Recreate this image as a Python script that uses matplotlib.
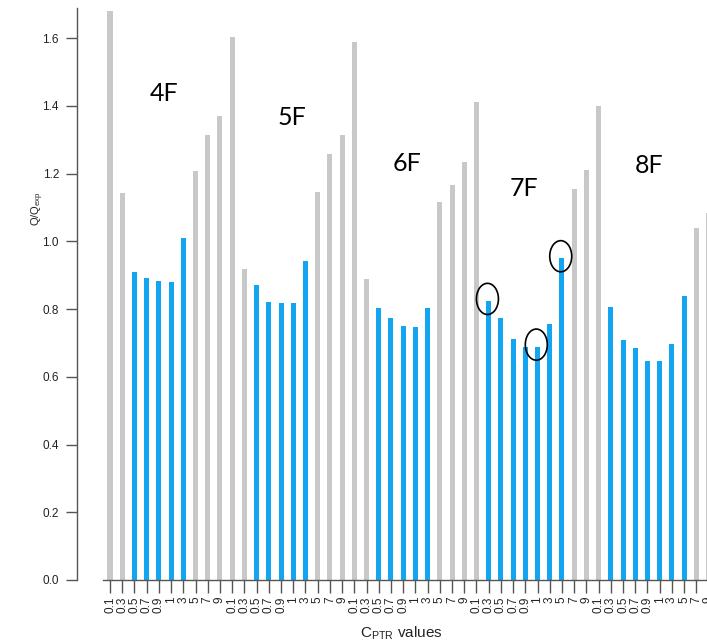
import matplotlib
matplotlib.use('Agg')
import matplotlib.pyplot as plt
from matplotlib.patches import Ellipse
import numpy as np

plt.rcParams['font.family'] = ['Liberation Sans', 'DejaVu Sans']
plt.rcParams['mathtext.fontset'] = 'custom'
plt.rcParams['mathtext.rm'] = 'Liberation Sans'
plt.rcParams['mathtext.it'] = 'Liberation Sans'

# --- Data ---
groups = ['4F', '5F', '6F', '7F', '8F']
cptr_labels = ['0.1', '0.3', '0.5', '0.7', '0.9', '1', '3', '5', '7', '9']

q_4F = [1.680, 1.144, 0.909, 0.892, 0.883, 0.881, 1.009, 1.207, 1.315, 1.371]
q_5F = [1.602, 0.917, 0.871, 0.822, 0.818, 0.818, 0.943, 1.145, 1.259, 1.315]
q_6F = [1.588, 0.888, 0.802, 0.775, 0.749, 0.747, 0.802, 1.117, 1.166, 1.233]
q_7F = [1.410, 0.824, 0.775, 0.713, 0.689, 0.689, 0.756, 0.950, 1.156, 1.212]
q_8F = [1.399, 0.806, 0.710, 0.685, 0.647, 0.647, 0.696, 0.838, 1.038, 1.083]

# 1 = accepted range (blue), 0 = outside (grey)
ok_4F = [0, 0, 1, 1, 1, 1, 1, 0, 0, 0]
ok_5F = [0, 0, 1, 1, 1, 1, 1, 0, 0, 0]
ok_6F = [0, 0, 1, 1, 1, 1, 1, 0, 0, 0]
ok_7F = [0, 1, 1, 1, 1, 1, 1, 1, 0, 0]
ok_8F = [0, 1, 1, 1, 1, 1, 1, 1, 0, 0]

# circled points in the 7F group (index within group)
circled_7F = [1, 5, 7]

BLUE = '#14a5f0'
GREY = '#c8c8c8'

values = np.concatenate([q_4F, q_5F, q_6F, q_7F, q_8F])
flags = np.concatenate([ok_4F, ok_5F, ok_6F, ok_7F, ok_8F])
labels = cptr_labels * len(groups)
x = np.arange(len(values))
colors = [BLUE if f else GREY for f in flags]

# --- Figure ---
W, H = 707, 644
fig = plt.figure(figsize=(W / 100, H / 100), dpi=100)
fig.patch.set_facecolor('white')

# axes: left spine at 77px, x index 0 at 110px, spacing 12.215px
step = 12.215
x0_px, left_px, bottom_px, top_px = 110, 77, 580, 8
xmin = (left_px - x0_px) / step
xmax = 50.5
right_px = x0_px + xmax * step
ax = fig.add_axes([left_px / W, (H - bottom_px) / H,
                   (right_px - left_px) / W, (bottom_px - top_px) / H])
ax.set_xlim(xmin, xmax)
ax.set_ylim(0, 1.689)

ax.bar(x, values, width=0.41, color=colors, linewidth=0)

# circles around selected 7F bars
base_7F = groups.index('7F') * len(cptr_labels)
for i in circled_7F:
    ax.add_patch(Ellipse((base_7F + i - 0.1, q_7F[i] + 0.006), 1.8, 0.092,
                         fill=False, edgecolor='black', linewidth=1.2,
                         zorder=5))

# group labels
group_pos = [(4.4, 1.438), (14.9, 1.367), (24.3, 1.23), (33.9, 1.157), (44.1, 1.224)]
for name, (gx, gy) in zip(groups, group_pos):
    ax.text(gx, gy, name, fontsize=18, family='Lato', ha='center', va='center',
            color='black')

# spines
for s in ['top', 'right']:
    ax.spines[s].set_visible(False)
ax.spines['left'].set_color('#555555')
ax.spines['left'].set_linewidth(1.0)
ax.spines['bottom'].set_color('#555555')
ax.spines['bottom'].set_linewidth(1.0)
ax.spines['bottom'].set_bounds(-0.6, xmax)

ax.set_yticks(np.arange(0, 1.61, 0.2))
ax.set_yticklabels([f'{v:.1f}' for v in np.arange(0, 1.61, 0.2)])
ax.tick_params(axis='y', direction='out', length=8, width=1.0,
               color='#555555', labelsize=8.5, pad=5, labelcolor='#222222')

ax.set_xticks(x)
ax.set_xticklabels(labels, rotation=90)
ax.tick_params(axis='x', direction='out', length=9, width=1.0,
               color='#555555', labelsize=8.5, pad=3, labelcolor='#222222')

fig.text(38 / W, 1 - 209 / H, r'Q/Q$_{\mathrm{exp}}$', rotation=90,
         ha='center', va='center', fontsize=8, color='#222222')
fig.text(401 / W, 1 - 633 / H, r'C$_{\mathrm{PTR}}$ values',
         ha='center', va='center', fontsize=11, color='#222222')

fig.savefig('out.png', dpi=100, facecolor='white')
plt.close(fig)
